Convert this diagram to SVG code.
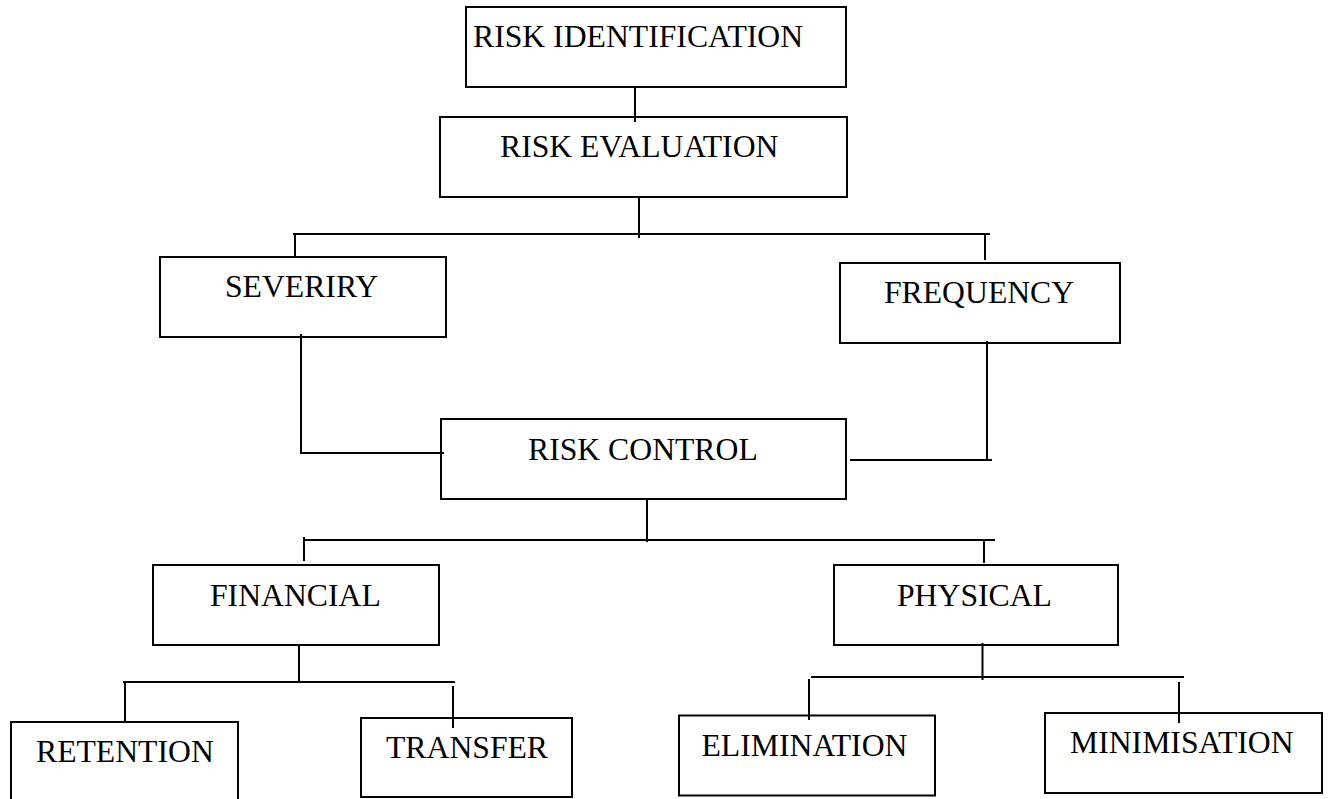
<svg xmlns="http://www.w3.org/2000/svg" width="1328" height="799" viewBox="0 0 1328 799">
<style>
.box{fill:#fff;stroke:#000;stroke-width:2}
.lbl{font-family:"Liberation Serif","Times New Roman",serif;font-size:31.7px;fill:#000}
.con{fill:none;stroke:#000;stroke-width:2}
</style>
<rect width="1328" height="799" fill="#fff"/>
<g id="n-risk-identification"><rect class="box" x="466" y="7" width="380" height="80"/><text class="lbl" x="473" y="47">RISK IDENTIFICATION</text></g>
<g id="n-risk-evaluation"><rect class="box" x="440" y="117" width="407" height="80"/><text class="lbl" x="500" y="157">RISK EVALUATION</text></g>
<g id="n-severiry"><rect class="box" x="160" y="257" width="286" height="80"/><text class="lbl" x="225" y="297">SEVERIRY</text></g>
<g id="n-frequency"><rect class="box" x="840" y="263" width="280" height="80"/><text class="lbl" x="884" y="303">FREQUENCY</text></g>
<g id="n-risk-control"><rect class="box" x="441" y="419" width="405" height="80"/><text class="lbl" x="528" y="460">RISK CONTROL</text></g>
<g id="n-financial"><rect class="box" x="153" y="565" width="286" height="80"/><text class="lbl" x="210" y="606">FINANCIAL</text></g>
<g id="n-physical"><rect class="box" x="834" y="565" width="284" height="80"/><text class="lbl" x="897" y="606">PHYSICAL</text></g>
<g id="n-retention"><rect class="box" x="11" y="722" width="227" height="100"/><text class="lbl" x="36" y="762">RETENTION</text></g>
<g id="n-transfer"><rect class="box" x="361" y="718" width="211" height="79"/><text class="lbl" x="386" y="758">TRANSFER</text></g>
<g id="n-elimination"><rect class="box" x="679" y="715.5" width="256" height="80"/><text class="lbl" x="701.5" y="756">ELIMINATION</text></g>
<g id="n-minimisation"><rect class="box" x="1045" y="713" width="277" height="80"/><text class="lbl" x="1070" y="753">MINIMISATION</text></g>
<g id="connectors" class="con">
<path d="M635 87V122"/>
<path d="M639 197V238"/>
<path d="M293 234H990"/>
<path d="M295 234V257"/>
<path d="M985 234V260"/>
<path d="M301 334V453H444"/>
<path d="M987 341V460"/>
<path d="M850 460H992"/>
<path d="M647 499V542"/>
<path d="M303 540H995"/>
<path d="M304 537V561"/>
<path d="M984 540V563"/>
<path d="M299 645V682"/>
<path d="M123 682H455"/>
<path d="M125 682V723"/>
<path d="M453 686V728"/>
<path d="M982.5 643V680"/>
<path d="M811 677H1184"/>
<path d="M809 679V720"/>
<path d="M1179 682V723"/>
</g>
</svg>
